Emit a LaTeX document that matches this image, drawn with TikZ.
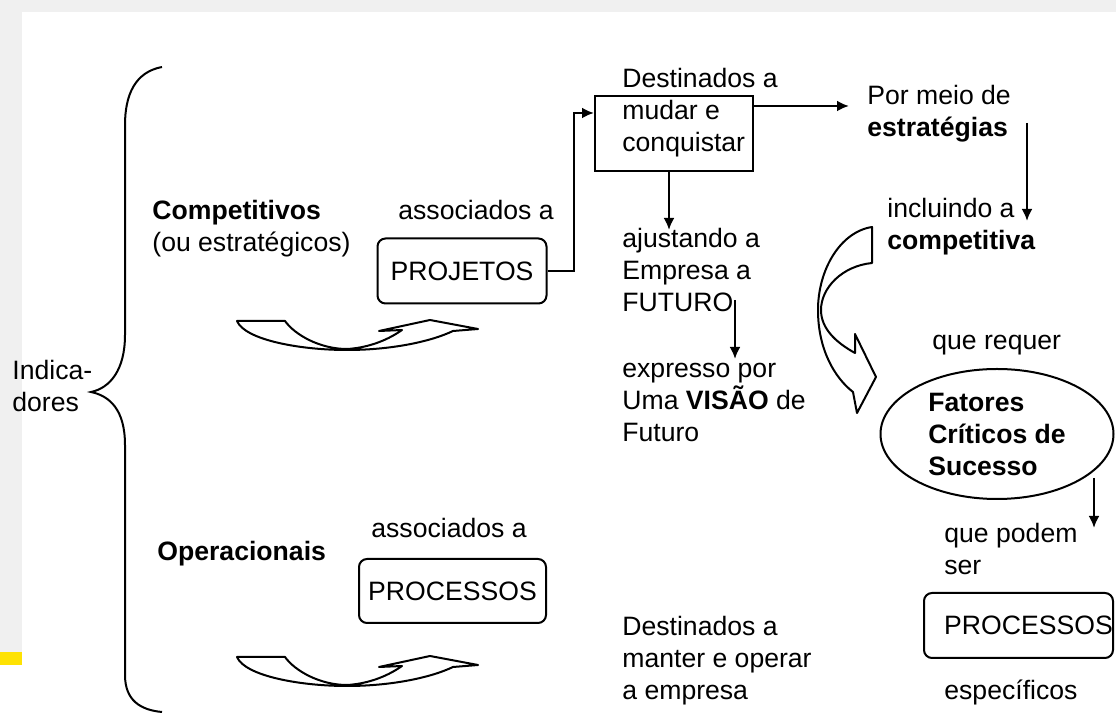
\documentclass[tikz,border=0pt]{standalone}
\usepackage{fontspec}
\setmainfont{Liberation Sans}
\usetikzlibrary{arrows.meta,shapes.geometric}

\begin{document}
\begin{tikzpicture}[x=0.5pt,y=-0.5pt,
    txt/.style={anchor=base west,inner sep=0pt,align=left,font=\fontsize{13.3}{16}\selectfont},
    roundbox/.style={draw,rounded corners=4pt,line width=1pt,inner sep=0pt,font=\fontsize{13.3}{16}\selectfont},
    conn/.style={line width=1.3pt,-{Latex[length=6pt,width=5.5pt]}},
    bent/.style={draw,line width=1pt,fill=white,line join=round}]
  \useasboundingbox (0,0) rectangle (1116,716);
  % edges of the page
  \fill[black!6] (0,0) rectangle (1116,12);
  \fill[black!6] (0,12) rectangle (22,652);
  \fill[yellow!85!orange] (0,652) rectangle (22,665);
  % the brace
  \draw[line width=1pt] (162,67) .. controls (135,72) and (125,95) .. (125,125)
    -- (125,335) .. controls (125,370) and (110,388) .. (91,392)
    .. controls (110,396) and (125,410) .. (125,445)
    -- (125,675) .. controls (125,700) and (140,710) .. (162,712);
  \node[txt] (ind) at (12,412) {Indica-\\dores};

  % competitivos
  \node[txt] (comp) at (152,252) {\textbf{Competitivos}\\(ou estratégicos)};
  \node[txt] (assoc1) at (398,220) {associados a};
  \node[roundbox,minimum width=84.5pt,minimum height=32.5pt] (projetos) at (462,271) {PROJETOS};
  \draw[bent] (237,321) .. controls (245,340) and (300,350) .. (347,350)
    .. controls (390,350) and (430,342) .. (453,331) -- (478,329) -- (430,320) -- (379,331) -- (402,330)
    .. controls (385,342) and (365,348) .. (347,349) .. controls (320,349) and (295,335) .. (285,321) -- cycle;

  \node[draw,line width=1pt,minimum width=79pt,minimum height=37.5pt,inner sep=0pt] (destbox) at (674,133.5) {};
  \node[txt] (dest1) at (622,152) {Destinados a\\mudar e\\conquistar};
  \coordinate (bend) at (574,113);
  \draw[conn] (projetos.east) -| (bend) -- (bend -| destbox.west);

  \node[txt] (meio) at (867,137) {Por meio de\\\textbf{estratégias}};
  \coordinate (m1) at (849,106);
  \draw[conn] (m1 -| destbox.east) -- (m1);
  \node[txt] (incl) at (887,250) {incluindo a\\\textbf{competitiva}};
  \coordinate (e1) at (1027,123);
  \coordinate (e2) at (1027,221);
  \draw[conn] (e1) -- (e2);

  \node[txt] (ajust) at (622,312) {ajustando a\\Empresa a\\FUTURO};
  \coordinate (a1) at (669,230);
  \draw[conn] (a1 |- destbox.south) -- (a1);
  \node[txt] (expr) at (622,442) {expresso por\\Uma \textbf{VISÃO} de\\Futuro};
  \coordinate (f1) at (735,300);
  \coordinate (f2) at (735,359);
  \draw[conn] (f1) -- (f2);

  % big bent arrow
  \draw[bent] (872,227) .. controls (840,232) and (818,270) .. (818,310)
    .. controls (818,350) and (835,378) .. (853,392) -- (857,413) -- (876,377) -- (855,334) -- (855,353)
    .. controls (835,342) and (821,328) .. (821,310) .. controls (821,288) and (842,266) .. (872,263) -- cycle;

  \node[txt] (requer) at (932,350) {que requer};
  \node[ellipse,draw,line width=1pt,minimum width=116.5pt,minimum height=65pt,inner sep=0pt,
    align=left,font=\fontsize{13.3}{16}\selectfont\bfseries] (fcs) at (997,434) {Fatores\\Críticos de\\Sucesso};
  \coordinate (s1) at (1094,478);
  \coordinate (s2) at (1094,528);
  \draw[conn] (s1) -- (s2);
  \node[txt] (podem) at (944,575) {que podem\\ser};
  \node[roundbox,minimum width=94.5pt,minimum height=32.5pt] (procR) at (1018.5,625.5) {\hspace{10pt}PROCESSOS};
  \node[txt] (espec) at (944,700) {específicos};

  % operacionais
  \node[txt] (oper) at (157,561) {\textbf{Operacionais}};
  \node[txt] (assoc2) at (371,538) {associados a};
  \node[roundbox,minimum width=93.5pt,minimum height=32pt] (procL) at (452.5,591) {PROCESSOS};
  \begin{scope}[yshift=-168pt]
    \draw[bent] (237,321) .. controls (245,340) and (300,350) .. (347,350)
      .. controls (390,350) and (430,342) .. (453,331) -- (478,329) -- (430,320) -- (379,331) -- (402,330)
      .. controls (385,342) and (365,348) .. (347,349) .. controls (320,349) and (295,335) .. (285,321) -- cycle;
  \end{scope}
  \node[txt] (dest2) at (622,700) {Destinados a\\manter e operar\\a empresa};
\end{tikzpicture}
\end{document}
